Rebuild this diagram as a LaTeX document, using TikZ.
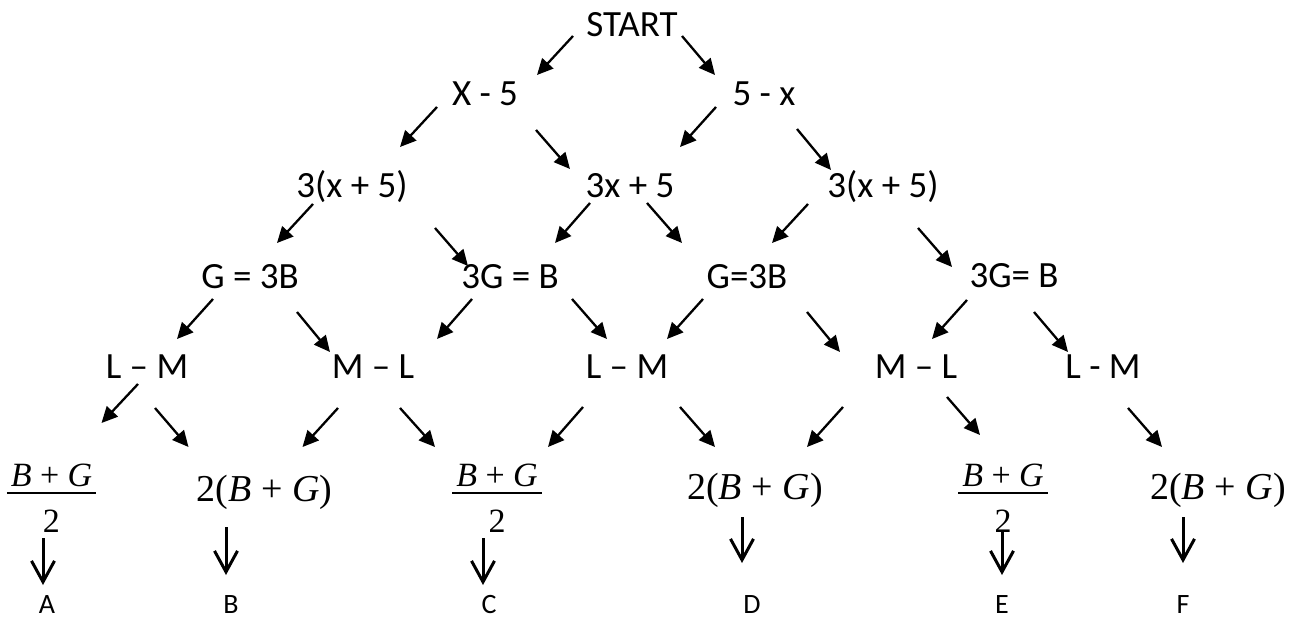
\documentclass[tikz,border=0pt]{standalone}
\usepackage{fontspec}
\setmainfont{Carlito}
\newfontfamily\tms{Liberation Serif}
\usetikzlibrary{arrows.meta}
\newcommand{\myfrac}[2]{\vbox{\offinterlineskip\halign{\hfil\kern4pt##\kern4pt\hfil\cr #1\cr\noalign{\kern6pt\hrule height 2pt\kern15pt}#2\cr}}}
\tikzset{
  lbl/.style={inner sep=0pt, outer sep=0pt, anchor=base, font=\fontsize{37}{44}\selectfont},
  mth/.style={inner sep=0pt, outer sep=0pt, anchor=base, font=\fontsize{38}{44}\selectfont\tms},
  fr/.style={inner sep=0pt, outer sep=0pt, anchor=base, font=\fontsize{34}{40}\selectfont\tms},
  res/.style={inner sep=0pt, outer sep=0pt, anchor=base, font=\fontsize{28}{34}\selectfont},
  arr/.style={line width=2.3pt, -{Triangle[length=16pt,width=15pt]}},
  varr/.style={line width=3pt, -{Straight Barb[length=21pt,width=23pt]}}
}
\begin{document}
\begin{tikzpicture}[x=1pt,y=-1pt]
\useasboundingbox (0,0) rectangle (1297,618);
% level 0-1
\node[lbl] (start) at (632,37) {START};
\node[lbl] (xm5) at (485,105) {X - 5};
\node[lbl] (fmx) at (764,105) {5 - x};
% level 2
\node[lbl] (t1) at (352,197) {3(x + 5)};
\node[lbl] (t2) at (630,197) {3x + 5};
\node[lbl] (t3) at (883,197) {3(x + 5)};
% level 3
\node[lbl] (g1) at (250,288) {G = 3B};
\node[lbl] (g2) at (510,288) {3G = B};
\node[lbl] (g3) at (747,288) {G=3B};
\node[lbl] (g4) at (1014,287) {3G= B};
% level 4
\node[lbl] (l1) at (147,378) {L – M};
\node[lbl] (l2) at (373,378) {M – L};
\node[lbl] (l3) at (627,378) {L – M};
\node[lbl] (l4) at (916,378) {M – L};
\node[lbl] (l5) at (1103,378) {L - M};
% level 5
\node[fr] (b1) at (51.5,532) {\myfrac{\textit{B} + \textit{G}}{2}};
\node[mth] (b2) at (264.5,501) {2(\textit{B} + \textit{G})};
\node[fr] (b3) at (497,532) {\myfrac{\textit{B} + \textit{G}}{2}};
\node[mth] (b4) at (755,499) {2(\textit{B} + \textit{G})};
\node[fr] (b5) at (1003,532) {\myfrac{\textit{B} + \textit{G}}{2}};
\node[mth] (b6) at (1218,499) {2(\textit{B} + \textit{G})};
% results
\node[res] (rA) at (47,613) {A};
\node[res] (rB) at (231,613) {B};
\node[res] (rC) at (489,613) {C};
\node[res] (rD) at (752,613) {D};
\node[res] (rE) at (1002,613) {E};
\node[res] (rF) at (1183,613) {F};
% arrows
\draw[arr] ([shift={(-59,-1)}]start.base) -- ([shift={(52,-30)}]xm5.base);
\draw[arr] ([shift={(50,-1)}]start.base) -- ([shift={(-49,-30)}]fmx.base);
\draw[arr] ([shift={(-48,2)}]xm5.base) -- ([shift={(48,-50)}]t1.base);
\draw[arr] ([shift={(51,25)}]xm5.base) -- ([shift={(-60,-28)}]t2.base);
\draw[arr] ([shift={(-48,2)}]fmx.base) -- ([shift={(50,-50)}]t2.base);
\draw[arr] ([shift={(33,24)}]fmx.base) -- ([shift={(-52,-27)}]t3.base);
\draw[arr] ([shift={(-39,7)}]t1.base) -- ([shift={(27,-45)}]g1.base);
\draw[arr] ([shift={(83,31)}]t1.base) -- ([shift={(-42,-22)}]g2.base);
\draw[arr] ([shift={(-40,6)}]t2.base) -- ([shift={(45,-45)}]g2.base);
\draw[arr] ([shift={(17,6)}]t2.base) -- ([shift={(-65,-45)}]g3.base);
\draw[arr] ([shift={(-75,7)}]t3.base) -- ([shift={(25,-45)}]g3.base);
\draw[arr] ([shift={(35,31)}]t3.base) -- ([shift={(-62,-20)}]g4.base);
\draw[arr] ([shift={(-37,11)}]g1.base) -- ([shift={(30,-39)}]l1.base);
\draw[arr] ([shift={(47,24)}]g1.base) -- ([shift={(-43,-26)}]l2.base);
\draw[arr] ([shift={(-38,11)}]g2.base) -- ([shift={(64,-39)}]l2.base);
\draw[arr] ([shift={(62,11)}]g2.base) -- ([shift={(-20,-39)}]l3.base);
\draw[arr] ([shift={(-44,11)}]g3.base) -- ([shift={(40,-39)}]l3.base);
\draw[arr] ([shift={(60,24)}]g3.base) -- ([shift={(-76,-26)}]l4.base);
\draw[arr] ([shift={(-47,13)}]g4.base) -- ([shift={(16,-39)}]l4.base);
\draw[arr] ([shift={(20,25)}]g4.base) -- ([shift={(-35,-26)}]l5.base);
\draw[arr] ([shift={(-9,6)}]l1.base) -- ([shift={(50,-109)}]b1.base);
\draw[arr] ([shift={(8,30)}]l1.base) -- ([shift={(-76,-54)}]b2.base);
\draw[arr] ([shift={(-35,30)}]l2.base) -- ([shift={(38,-54)}]b2.base);
\draw[arr] ([shift={(27,30)}]l2.base) -- ([shift={(-62,-85)}]b3.base);
\draw[arr] ([shift={(-44,29)}]l3.base) -- ([shift={(51,-85)}]b3.base);
\draw[arr] ([shift={(53,29)}]l3.base) -- ([shift={(-40,-52)}]b4.base);
\draw[arr] ([shift={(-73,29)}]l4.base) -- ([shift={(52,-52)}]b4.base);
\draw[arr] ([shift={(31,19)}]l4.base) -- ([shift={(-23,-97)}]b5.base);
\draw[arr] ([shift={(25,30)}]l5.base) -- ([shift={(-56,-52)}]b6.base);
% down arrows
\draw[varr] ([shift={(-8.5,6)}]b1.base) -- ([shift={(-4,-28)}]rA.base);
\draw[varr] ([shift={(-38.5,26)}]b2.base) -- ([shift={(-5,-38)}]rB.base);
\draw[varr] ([shift={(-14,6)}]b3.base) -- ([shift={(-6,-28)}]rC.base);
\draw[varr] ([shift={(-13,18)}]b4.base) -- ([shift={(-10,-50)}]rD.base);
\draw[varr] ([shift={(-1,-2)}]b5.base) -- ([shift={(0,-38)}]rE.base);
\draw[varr] ([shift={(-35,18)}]b6.base) -- ([shift={(0,-50)}]rF.base);
\end{tikzpicture}
\end{document}
